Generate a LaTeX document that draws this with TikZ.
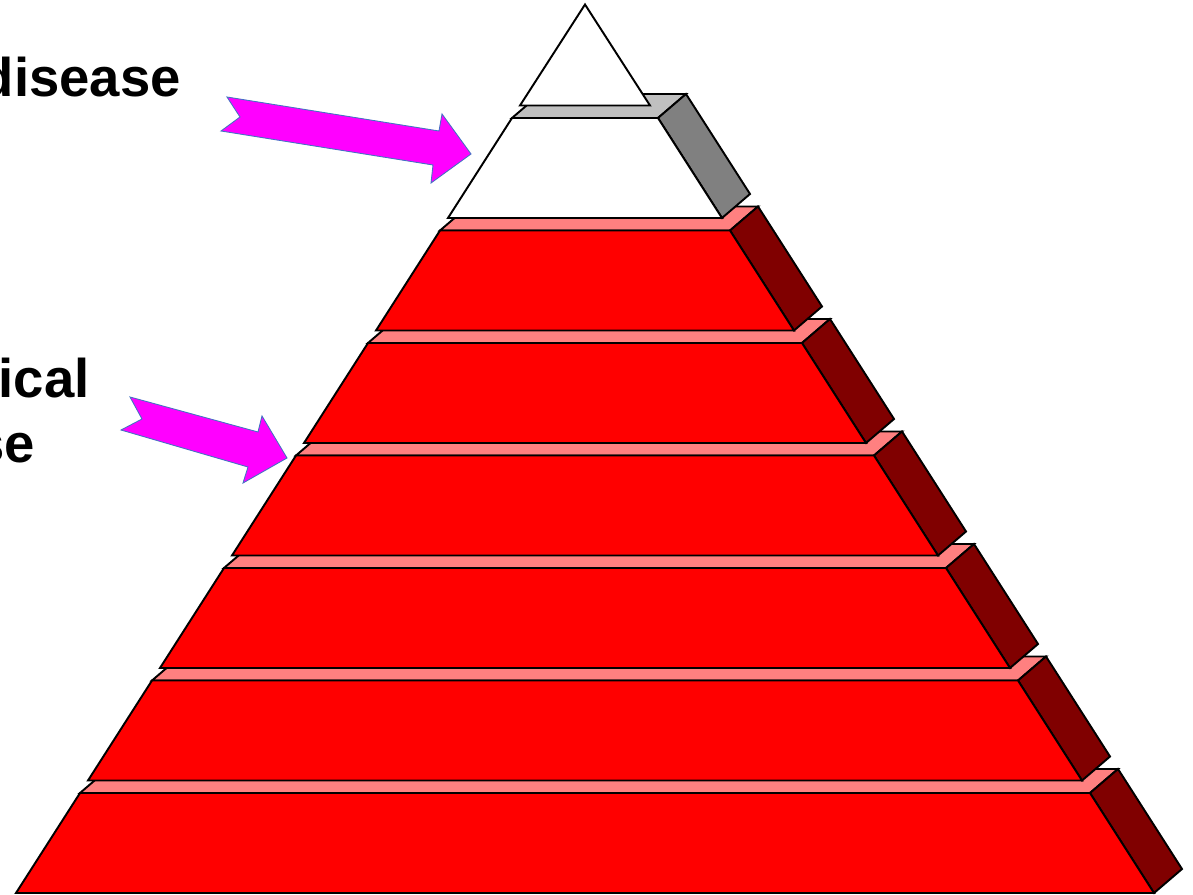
\documentclass[tikz,border=0pt]{standalone}
\usepackage{fontspec}
\setmainfont{Liberation Sans}
\definecolor{liteRed}{HTML}{FF8080}
\definecolor{darkRed}{HTML}{800000}
\definecolor{pureRed}{HTML}{FF0000}
\definecolor{liteGray}{HTML}{C0C0C0}
\definecolor{midGray}{HTML}{808080}
\definecolor{arrowBlue}{HTML}{4472C4}
\definecolor{arrowPink}{HTML}{FF00FF}

\begin{document}
\begin{tikzpicture}[
  x=0.02cm,
  y=-0.02cm,
  line join=miter,
  edge/.style={draw=black, line width=1.1pt},
  front/.style={edge, fill=pureRed},
  topface/.style={edge, fill=liteRed},
  sideface/.style={edge, fill=darkRed},
  whitefront/.style={edge, fill=white},
  graytop/.style={edge, fill=liteGray},
  grayside/.style={edge, fill=midGray},
  pointer/.style={draw=arrowBlue, line width=0.5pt, fill=arrowPink},
  bigtext/.style={
    font=\fontsize{31}{37}\selectfont\bfseries,
    inner sep=0pt,
    anchor=base east
  }
]

\clip (0,0) rectangle (1193,895);

% Layer 1 (bottom)
\path[topface] (80,793) -- (1090,793) -- (1118,769) -- (108,769) -- cycle;
\path[sideface] (1090,793) -- (1154,893) -- (1182,869) -- (1118,769) -- cycle;
\path[front] (16,893) -- (1154,893) -- (1090,793) -- (80,793) -- cycle;

% Layer 2
\path[topface] (152,680.5) -- (1018,680.5) -- (1046,656.5) -- (180,656.5) -- cycle;
\path[sideface] (1018,680.5) -- (1082,780.5) -- (1110,756.5) -- (1046,656.5) -- cycle;
\path[front] (88,780.5) -- (1082,780.5) -- (1018,680.5) -- (152,680.5) -- cycle;

% Layer 3
\path[topface] (224,568) -- (946,568) -- (974,544) -- (252,544) -- cycle;
\path[sideface] (946,568) -- (1010,668) -- (1038,644) -- (974,544) -- cycle;
\path[front] (160,668) -- (1010,668) -- (946,568) -- (224,568) -- cycle;

% Layer 4
\path[topface] (296,455.5) -- (874,455.5) -- (902,431.5) -- (324,431.5) -- cycle;
\path[sideface] (874,455.5) -- (938,555.5) -- (966,531.5) -- (902,431.5) -- cycle;
\path[front] (232,555.5) -- (938,555.5) -- (874,455.5) -- (296,455.5) -- cycle;

% Layer 5
\path[topface] (368,343) -- (802,343) -- (830,319) -- (396,319) -- cycle;
\path[sideface] (802,343) -- (866,443) -- (894,419) -- (830,319) -- cycle;
\path[front] (304,443) -- (866,443) -- (802,343) -- (368,343) -- cycle;

% Layer 6
\path[topface] (440,230.5) -- (730,230.5) -- (758,206.5) -- (468,206.5) -- cycle;
\path[sideface] (730,230.5) -- (794,330.5) -- (822,306.5) -- (758,206.5) -- cycle;
\path[front] (376,330.5) -- (794,330.5) -- (730,230.5) -- (440,230.5) -- cycle;

% Layer 7 (white)
\path[graytop] (512,118) -- (658,118) -- (686,94) -- (540,94) -- cycle;
\path[grayside] (658,118) -- (722,218) -- (750,194) -- (686,94) -- cycle;
\path[whitefront] (448,218) -- (722,218) -- (658,118) -- (512,118) -- cycle;

% Apex
\path[whitefront] (520,105.5) -- (650,105.5) -- (585,4.5) -- cycle;

% Pointers
\path[pointer] (227,97) -- (439,131) -- (442,114) -- (471,154) -- (431,183)
  -- (433,165) -- (221,131) -- (240,117) -- cycle;
\path[pointer] (130,397) -- (258,432) -- (262,416) -- (287,458) -- (243,483)
  -- (248,467) -- (121,430) -- (142,419) -- cycle;

% Labels
\node[bigtext] (disease) at (181,97) {disease};
\node[bigtext] (ical) at (90,397) {ical};
\node[bigtext] (se) at (35,462) {se};

\end{tikzpicture}
\end{document}
